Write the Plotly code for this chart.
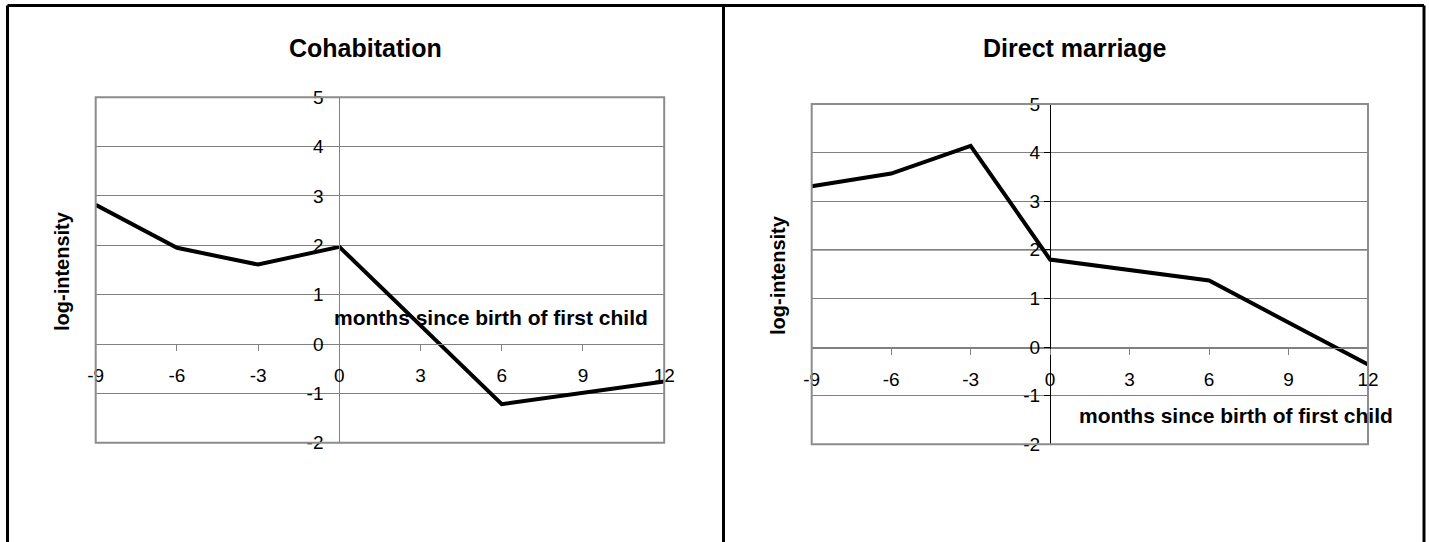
import plotly.graph_objects as go

# ---- data ----
months_cohab = [-9, -6, -3, 0, 6, 12]
cohabitation = [2.82, 1.95, 1.61, 1.97, -1.22, -0.76]

months_direct = [-9, -6, -3, 0, 6, 12]
direct_marriage = [3.31, 3.57, 4.14, 1.80, 1.37, -0.36]

x_ticks = [-9, -6, -3, 0, 3, 6, 9, 12]
x_tick_labels = ["-9", "-6", "-3", "0", "3", "6", "9", "12"]
y_ticks = [-2, -1, 0, 1, 2, 3, 4, 5]
y_tick_labels = ["-2", "-1", "0", "1", "2", "3", "4", "5"]

panel_titles = ["Cohabitation", "Direct marriage"]
x_title = "months since birth of first child"
y_title = "log-intensity"

W, H = 1429, 542
FONT = "Liberation Sans, Arial, sans-serif"
GRID = "#808080"


def px(x):
    return x / W


def py(y):
    return 1 - y / H


fig = go.Figure()
fig.add_trace(go.Scatter(x=months_cohab, y=cohabitation, mode="lines",
                         line=dict(color="black", width=4), xaxis="x", yaxis="y",
                         showlegend=False))
fig.add_trace(go.Scatter(x=months_direct, y=direct_marriage, mode="lines",
                         line=dict(color="black", width=4), xaxis="x2", yaxis="y2",
                         showlegend=False))

tickfont = dict(family=FONT, size=19, color="black")


def xaxis(domain, pos, lc):
    return dict(domain=domain, range=[-9, 12], tickvals=x_ticks, ticktext=x_tick_labels,
                showgrid=False, zeroline=False, showline=True, linecolor=lc, linewidth=1,
                ticks="outside", ticklen=6, tickcolor=lc, tickfont=tickfont,
                anchor="free", position=pos, ticklabelstandoff=8, fixedrange=True,
                automargin=False)


def yaxis(domain, pos, lc, standoff):
    return dict(domain=domain, range=[-2, 5], tickvals=y_ticks, ticktext=y_tick_labels,
                showgrid=True, gridcolor=GRID, gridwidth=1, zeroline=False,
                showline=True, linecolor=lc, linewidth=1,
                ticks="outside", ticklen=6, tickcolor=lc, tickfont=tickfont,
                anchor="free", position=pos, ticklabelstandoff=standoff, fixedrange=True,
                automargin=False)


fig.update_layout(
    width=W, height=H,
    margin=dict(l=0, r=0, t=0, b=0, pad=0),
    paper_bgcolor="white", plot_bgcolor="white",
    xaxis=xaxis([px(95.7), px(664.2)], py(344.3), GRID),
    yaxis=yaxis([py(442.7), py(97.3)], px(339.3), GRID, 6),
    xaxis2=xaxis([px(811.7), px(1368.0)], py(347.7), GRID),
    yaxis2=yaxis([py(444.3), py(104.0)], px(1050.0), "black", 0),
)

shapes = []
for xr, yr in [("x domain", "y domain"), ("x2 domain", "y2 domain")]:
    shapes.append(dict(type="rect", xref=xr, yref=yr, x0=0, x1=1, y0=0, y1=1,
                       line=dict(color="#8c8c8c", width=2), layer="above"))
shapes.append(dict(type="line", xref="x2 domain", yref="y2", x0=0, x1=1, y0=2, y1=2,
                   line=dict(color="black", width=1), layer="below"))
frame = dict(color="black", width=3)
shapes.append(dict(type="line", xref="paper", yref="paper", x0=px(7.5), x1=px(1424), y0=py(5.5), y1=py(5.5), line=frame))
shapes.append(dict(type="line", xref="paper", yref="paper", x0=px(7.5), x1=px(7.5), y0=0, y1=py(5.5), line=frame))
shapes.append(dict(type="line", xref="paper", yref="paper", x0=px(1424), x1=px(1424), y0=0, y1=py(5.5), line=frame))
shapes.append(dict(type="line", xref="paper", yref="paper", x0=px(723.5), x1=px(723.5), y0=0, y1=py(5.5), line=frame))
fig.update_layout(shapes=shapes)

annotations = [
    dict(text="<b>%s</b>" % panel_titles[0], x=px(365), y=py(48), font=dict(family=FONT, size=25, color="black")),
    dict(text="<b>%s</b>" % panel_titles[1], x=px(1075), y=py(48), font=dict(family=FONT, size=25, color="black")),
    dict(text="<b>%s</b>" % x_title, x=px(491), y=py(317), font=dict(family=FONT, size=21, color="black")),
    dict(text="<b>%s</b>" % x_title, x=px(1236), y=py(415), font=dict(family=FONT, size=21, color="black")),
    dict(text="<b>%s</b>" % y_title, x=px(62), y=py(271), textangle=-90, font=dict(family=FONT, size=20, color="black")),
    dict(text="<b>%s</b>" % y_title, x=px(778), y=py(275), textangle=-90, font=dict(family=FONT, size=20, color="black")),
]
for a in annotations:
    a.update(xref="paper", yref="paper", showarrow=False, xanchor="center", yanchor="middle")
fig.update_layout(annotations=annotations)

fig.write_html("out.html", post_script="document.body.style.margin='0';",
               config={"displayModeBar": False})
